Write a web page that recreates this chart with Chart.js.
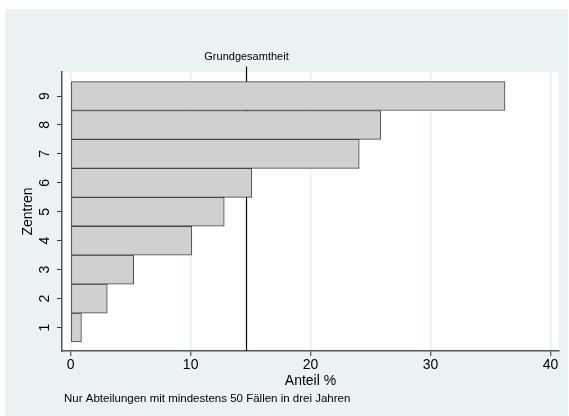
<!DOCTYPE html>
<html>
<head>
<meta charset="utf-8">
<script src="https://cdn.jsdelivr.net/npm/chart.js@4/dist/chart.umd.min.js"></script>
<style>
  html, body { margin: 0; padding: 0; background: #ffffff; }
  #wrap { width: 569px; height: 416px; }
</style>
</head>
<body>
<div id="wrap"><canvas id="chart" width="569" height="416"></canvas></div>
<script>
// Data
const zentren = [1, 2, 3, 4, 5, 6, 7, 8, 9];
const anteil = [0.9, 3.05, 5.25, 10.1, 12.8, 15.1, 24.05, 25.85, 36.2];
const xTicks = [0, 10, 20, 30, 40];
const grundgesamtheit = 14.6;
const refLabel = 'Grundgesamtheit';
const footnote = 'Nur Abteilungen mit mindestens 50 Fällen in drei Jahren';

const FONT = '"Liberation Sans", Arial, sans-serif';

// ---- background + plot area ----
const backdrop = {
    id: 'backdrop',
    beforeDraw(chart) {
        const { ctx, chartArea: a } = chart;
        ctx.save();
        ctx.fillStyle = '#eaf2f3';
        ctx.fillRect(5, 9, 563, 407);
        ctx.fillStyle = '#ffffff';
        ctx.fillRect(a.left, a.top, a.right - a.left, a.bottom - a.top);
        ctx.restore();
    }
};

// ---- reference line (behind bars) + footnote ----
const refLine = {
    id: 'refLine',
    beforeDatasetsDraw(chart) {
        const { ctx, chartArea: a, scales } = chart;
        const x = Math.round(scales.x.getPixelForValue(grundgesamtheit)) + 0.5;
        ctx.save();
        ctx.strokeStyle = '#000000';
        ctx.lineWidth = 1.2;
        ctx.beginPath();
        ctx.moveTo(x, a.top - 5.5);
        ctx.lineTo(x, a.bottom);
        ctx.stroke();
        ctx.fillStyle = '#000000';
        ctx.font = '11px ' + FONT;
        ctx.textAlign = 'center';
        ctx.textBaseline = 'middle';
        ctx.fillText(refLabel, x, a.top - 15);
        ctx.restore();
    },
    afterDraw(chart) {
        const { ctx } = chart;
        ctx.save();
        ctx.fillStyle = '#000000';
        ctx.font = '11.5px ' + FONT;
        ctx.textAlign = 'left';
        ctx.textBaseline = 'middle';
        ctx.fillText(footnote, 64, 399);
        ctx.restore();
    }
};

new Chart(document.getElementById('chart'), {
    type: 'bar',
    data: {
        datasets: [{
            data: zentren.map((z, i) => ({ x: anteil[i], y: z })),
            backgroundColor: '#d0d0d0',
            borderColor: '#454545',
            borderWidth: 1,
            borderSkipped: false,
            barPercentage: 1,
            categoryPercentage: 1,
        }]
    },
    options: {
        indexAxis: 'y',
        responsive: false,
        animation: false,
        layout: { padding: { top: 72, right: 10, left: 0, bottom: 0 } },
        plugins: {
            legend: { display: false },
            tooltip: { enabled: false },
        },
        scales: {
            x: {
                type: 'linear',
                min: -0.72,
                max: 40.7,
                afterBuildTicks: s => { s.ticks = xTicks.map(v => ({ value: v })); },
                afterFit: s => { s.height = 65; },
                border: { display: true, color: '#555555', width: 1.5 },
                grid: {
                    color: '#eaf2f3',
                    lineWidth: 1.5,
                    tickLength: 5,
                    tickColor: '#333333',
                    tickWidth: 1,
                },
                ticks: {
                    color: '#000000',
                    padding: 1,
                    maxRotation: 0,
                    font: { size: 14, family: FONT },
                },
                title: {
                    display: true,
                    text: 'Anteil %',
                    color: '#000000',
                    font: { size: 14, family: FONT },
                    padding: { top: 0, bottom: 26 },
                },
            },
            y: {
                type: 'linear',
                min: 0.19,
                max: 9.83,
                offset: false,
                afterBuildTicks: s => { s.ticks = zentren.map(v => ({ value: v })); },
                afterFit: s => { s.width = 62; },
                border: { display: true, color: '#555555', width: 1.5 },
                grid: {
                    offset: false,
                    drawOnChartArea: false,
                    tickLength: 5,
                    tickColor: '#333333',
                    tickWidth: 1,
                },
                ticks: {
                    color: '#000000',
                    padding: 8,
                    minRotation: 90,
                    maxRotation: 90,
                    crossAlign: 'center',
                    font: { size: 14, family: FONT },
                },
                title: {
                    display: true,
                    text: 'Zentren',
                    color: '#000000',
                    font: { size: 14, family: FONT },
                    padding: { top: 19.5, bottom: 0 },
                },
            },
        },
    },
    plugins: [backdrop, refLine],
});
</script>
</body>
</html>
